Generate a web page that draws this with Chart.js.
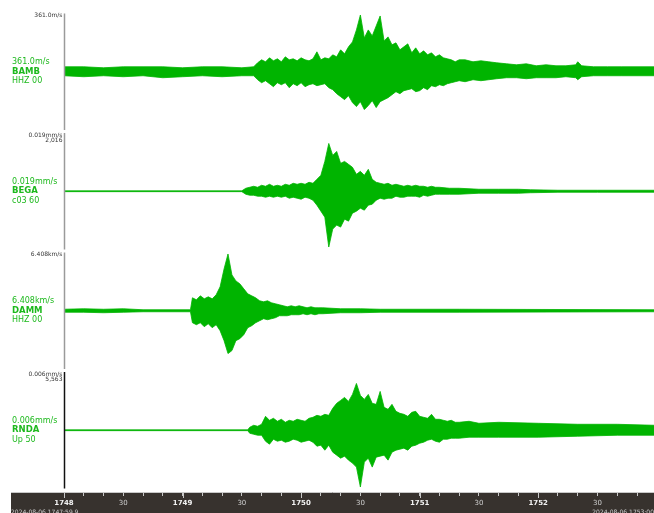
<!DOCTYPE html>
<html>
<head>
<meta charset="utf-8">
<script src="https://cdn.jsdelivr.net/npm/chart.js"></script>
<style>
  html, body { margin: 0; padding: 0; background: #fff; }
  canvas { display: block; }
</style>
</head>
<body>
<canvas id="seismo" width="654" height="513"></canvas>
<script>
// seconds after 17:48:00, envelope (upper / lower amplitude)
const bambTime = [0,10,20,30,40,50,60,70,80,90,
  96,98,100,102,104,106,108,110,112,114,116,118,120,122,124,126,128,130,132,134,136,138,140,142,144,146,148,150,152,154,156,158,160,162,164,166,168,170,172,174,176,178,180,182,184,186,188,190,192,194,196,198,200,
  203,207,211,215,219,224,229,234,239,244,249,254,259,260,262,268,275,282,290,298.6];
const bambUp = [5,5,4,5,5,5,4,5,5,4,
  5,9,12,10,14,11,13,10,15,12,13,11,14,12,11,13,20,12,14,13,17,15,22,18,25,30,42,57,34,42,36,46,56,31,35,27,29,22,25,28,19,24,18,21,17,19,15,17,14,13,12,10,12,
  12,10,11,10,9,8,7,8,6,7,6,6,7,10,6,5,5,5,5,5];
const bambDown = [4,5,4,5,4,6,5,4,5,4,
  4,8,11,9,12,15,11,13,11,16,12,14,11,15,13,12,14,13,12,16,18,22,25,28,24,31,35,30,38,34,29,36,30,28,26,23,20,22,19,18,17,20,19,16,18,14,15,13,14,12,11,10,9,
  10,8,9,8,7,6,6,7,6,6,6,5,6,8,5,4,4,4,4,4];

const begaTime = [0,90,
  92,94,96,98,100,102,104,106,108,110,112,114,116,118,120,122,124,126,128,130,132,134,136,138,140,142,144,146,148,150,152,154,156,158,160,162,164,166,168,170,172,174,176,178,180,182,184,186,188,190,
  195,200,210,220,230,236,250,270,298.6];
const begaUp = [0.4,0.4,
  3,4,5,4,6,5,7,5,6,5,7,6,8,7,8,7,9,8,12,16,30,48,36,40,28,30,27,24,17,20,16,22,12,9,8,7,8,6,7,6,5,6,5,6,5,5,4,5,4,4,
  3,3,2,2,2,1.5,1,1,1];
const begaDown = [0.4,0.4,
  3,4,4,5,5,6,5,6,5,6,5,7,6,7,8,6,7,9,14,20,26,56,38,34,36,28,30,22,20,17,19,14,13,9,7,8,7,7,5,6,6,5,5,5,6,4,5,4,3,3,
  3,3,2,2,2,1.5,1,1,1];

const dammTime = [0,10,20,30,40,64,
  65,67,69,71,73,75,77,79,81,83,85,87,89,91,93,95,97,99,101,103,105,107,109,111,113,115,117,119,121,123,125,127,129,131,
  140,150,160,200,298.6];
const dammUp = [1.5,2,1.5,2,1,1,
  13,11,15,12,14,12,16,24,42,57,36,30,27,22,17,15,13,10,9,10,8,7,6,5,4,5,4,5,4,3,4,3,3,3,
  2,2,1.5,1.5,1];
const dammDown = [1.5,1.5,2,1.5,1,1,
  12,14,12,16,13,17,14,20,30,43,40,30,28,24,17,15,12,10,8,9,8,7,5,5,5,4,4,4,3,4,3,4,3,3,
  2,2,1.5,1.5,1];

const rndaTime = [0,93,
  94,96,98,100,102,104,106,108,110,112,114,116,118,120,122,124,126,128,130,132,134,136,138,140,142,144,146,148,150,152,154,156,158,160,162,164,166,168,170,172,174,176,178,180,182,184,186,188,190,192,194,196,198,200,
  205,210,220,240,260,280,298.6];
const rndaUp = [0.4,0.4,
  3,5,4,6,14,10,12,9,11,8,10,9,11,10,9,12,13,15,14,16,15,22,27,30,33,29,36,47,35,31,36,27,26,39,23,21,26,19,17,16,14,18,19,14,13,12,16,11,11,10,9,10,8,8,
  9,7,8,7,6,6,5];
const rndaDown = [0.4,0.4,
  3,4,5,5,11,14,9,11,10,12,11,9,10,12,11,10,12,16,15,20,15,22,25,28,26,30,33,37,57,32,28,37,27,26,25,30,22,20,19,18,20,16,15,13,12,10,9,11,12,9,9,8,8,8,
  7,7,7,7,6,5,5];

const stations = ['BAMB', 'BEGA', 'DAMM', 'RNDA'];
const channels = ['HHZ 00', 'c03 60', 'HHZ 00', 'Up 50'];
const scaleLabels = ['361.0m/s', '0.019mm/s', '6.408km/s', '0.006mm/s'];
const gainLabels = ['', '2,016', '', '5,563'];

const minuteTicks = [0, 60, 120, 180, 240];
const minuteLabels = ['1748', '1749', '1750', '1751', '1752'];
const halfTicks = [30, 90, 150, 210, 270];
const startStamp = '2024-08-06 1747:59.9';
const endStamp = '2024-08-06 1753:00';

const traces = [
  { time: bambTime, up: bambUp, down: bambDown },
  { time: begaTime, up: begaUp, down: begaDown },
  { time: dammTime, up: dammUp, down: dammDown },
  { time: rndaTime, up: rndaUp, down: rndaDown }
];
const baselines = [180, 60, -60, -180];
const HALF = 60;
const GREEN = 'rgb(0,180,0)';
const LABEL_GREEN = '#1db91d';

const datasets = [];
traces.forEach((tr, i) => {
  const base = baselines[i];
  const common = { borderColor: GREEN, backgroundColor: GREEN, borderWidth: 0.8, pointRadius: 0, tension: 0 };
  datasets.push({ ...common, data: tr.time.map((t, k) => ({ x: t, y: base + tr.up[k] })), fill: false });
  datasets.push({ ...common, data: tr.time.map((t, k) => ({ x: t, y: base - tr.down[k] })), fill: '-1' });
});

const overlay = {
  id: 'overlay',
  beforeDraw(chart) {
    const { ctx, scales: { x } } = chart;
    ctx.save();
    ctx.fillStyle = '#37322e';
    ctx.fillRect(11, x.top, chart.width - 11, chart.height - x.top);
    ctx.restore();
  },
  afterDraw(chart) {
    const { ctx, scales: { x, y } } = chart;
    ctx.save();

    // top edge of the time bar
    ctx.strokeStyle = '#c8c8c8';
    ctx.lineWidth = 1;
    ctx.beginPath();
    ctx.moveTo(11, x.top + 0.5);
    ctx.lineTo(chart.width, x.top + 0.5);
    ctx.stroke();

    // minute ticks are longer
    minuteTicks.forEach(v => {
      const px = Math.round(x.getPixelForValue(v)) + 0.5;
      ctx.beginPath();
      ctx.moveTo(px, x.top);
      ctx.lineTo(px, x.top + 6);
      ctx.stroke();
    });

    // time stamps at the corners
    ctx.fillStyle = '#cfcfcf';
    ctx.font = '6px "DejaVu Sans"';
    ctx.textBaseline = 'alphabetic';
    ctx.textAlign = 'left';
    ctx.fillText(startStamp, 11, 514);
    ctx.textAlign = 'right';
    ctx.fillText(endStamp, chart.width, 514);

    // per-trace axis line and labels
    baselines.forEach((base, i) => {
      const top = y.getPixelForValue(base + HALF);
      const bottom = y.getPixelForValue(base - HALF);
      const mid = y.getPixelForValue(base);

      ctx.strokeStyle = i === 3 ? '#111' : '#9a9a9a';
      ctx.lineWidth = 1.5;
      ctx.beginPath();
      ctx.moveTo(64.5, top + 1.5);
      ctx.lineTo(64.5, bottom - 1.5);
      ctx.stroke();

      ctx.fillStyle = '#333';
      ctx.font = '6px "DejaVu Sans"';
      ctx.textAlign = 'right';
      ctx.textBaseline = 'middle';
      ctx.fillText(scaleLabels[i], 62.5, top + 3.6);
      if (gainLabels[i]) ctx.fillText(gainLabels[i], 62.5, top + 8.6);

      ctx.fillStyle = LABEL_GREEN;
      ctx.textAlign = 'left';
      ctx.font = '8px "DejaVu Sans"';
      ctx.fillText(scaleLabels[i], 12, mid - 9.5);
      ctx.font = 'bold 8.5px "DejaVu Sans"';
      ctx.fillText(stations[i], 12, mid);
      ctx.font = '8px "DejaVu Sans"';
      ctx.fillText(channels[i], 12, mid + 9.5);
    });

    ctx.restore();
  }
};

const isMinute = v => minuteTicks.includes(Math.round(v));

new Chart(document.getElementById('seismo'), {
  type: 'line',
  data: { datasets },
  options: {
    responsive: false,
    animation: false,
    devicePixelRatio: 1,
    layout: { padding: { left: 64, top: 12, right: 0, bottom: 0 } },
    plugins: { legend: { display: false }, tooltip: { enabled: false } },
    scales: {
      x: {
        type: 'linear',
        min: 0,
        max: 298.6,
        afterFit: s => { s.height = 21; },
        border: { display: false },
        grid: { drawOnChartArea: false, tickLength: 4, tickColor: '#c8c8c8', color: '#c8c8c8' },
        ticks: {
          stepSize: 10,
          includeBounds: false,
          autoSkip: false,
          maxRotation: 0,
          padding: 3,
          color: c => (c.tick && isMinute(c.tick.value)) ? '#f2f2f2' : '#cfcfcf',
          font: c => ({ family: 'DejaVu Sans', size: 7, weight: (c.tick && isMinute(c.tick.value)) ? 'bold' : 'normal' }),
          callback: v => {
            const r = Math.round(v);
            const mi = minuteTicks.indexOf(r);
            if (mi >= 0) return minuteLabels[mi];
            if (halfTicks.includes(r)) return '30';
            return '';
          }
        }
      },
      y: {
        display: false,
        min: -242,
        max: 240
      }
    }
  },
  plugins: [overlay]
});
</script>
</body>
</html>
